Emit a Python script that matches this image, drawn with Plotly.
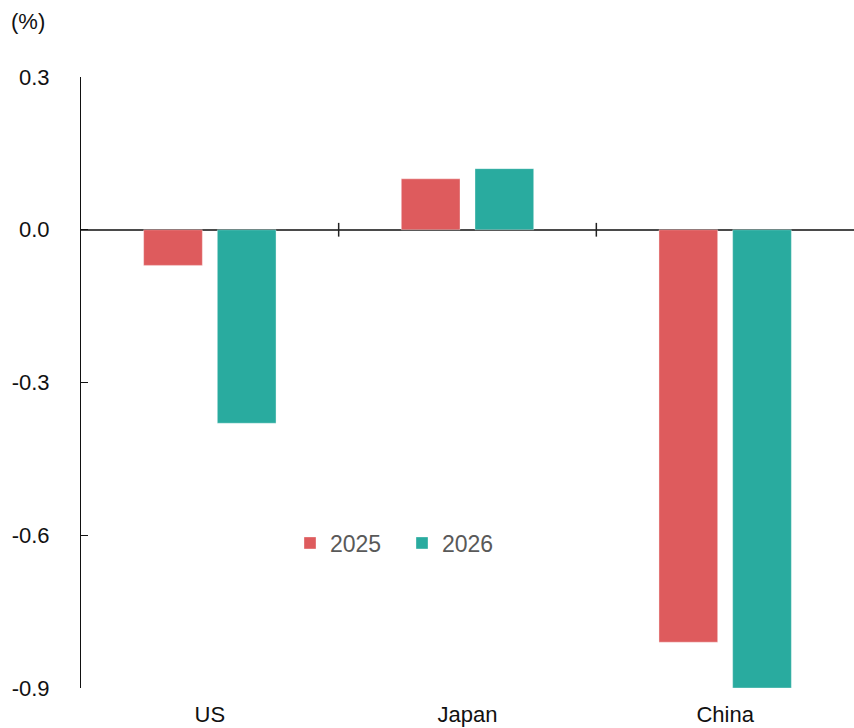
import plotly.graph_objects as go

# Contribution by region, percentage points
categories = ["US", "Japan", "China"]
series_names = ["2025", "2026"]
values_2025 = [-0.07, 0.10, -0.81]
values_2026 = [-0.38, 0.12, -0.90]
y_tick_values = [-0.9, -0.6, -0.3, 0.0, 0.3]
y_tick_labels = ["-0.9", "-0.6", "-0.3", "0.0", "0.3"]

colors = ["#DE5B5D", "#29AB9F"]
font_family = "Liberation Sans, Arial, sans-serif"

fig = go.Figure()
for name, vals, col in zip(series_names, [values_2025, values_2026], colors):
    fig.add_trace(go.Bar(
        x=categories, y=vals, name=name,
        marker=dict(color=col, line=dict(color="rgba(255,255,255,0.35)", width=1)),
    ))

# small separator ticks on the zero line between categories
sep_half = 0.0135
for i in range(len(categories) - 1):
    fig.add_shape(type="line", xref="x", yref="y",
                  x0=i + 0.5, x1=i + 0.5, y0=-sep_half, y1=sep_half,
                  line=dict(color="#222222", width=1.5))

fig.add_annotation(text="(%)", xref="paper", yref="paper",
                   x=(9 - 81) / 773, y=1 + 56 / 611,
                   xanchor="left", yanchor="middle", showarrow=False,
                   font=dict(size=22, color="#111111", family=font_family))

fig.update_layout(
    width=854, height=728,
    margin=dict(l=81, r=0, t=77, b=40),
    paper_bgcolor="white", plot_bgcolor="white",
    font=dict(family=font_family, size=22, color="#111111"),
    barmode="group", bargap=0.428, bargroupgap=0.2035,
    showlegend=True,
    legend=dict(orientation="h", x=(290 - 81) / 773, xanchor="left",
                y=(688 - 543) / 611, yanchor="middle",
                font=dict(size=23, color="#595959"),
                entrywidth=67, entrywidthmode="pixels",
                bgcolor="rgba(0,0,0,0)", traceorder="normal"),
    xaxis=dict(showline=False, showgrid=False, ticks="", zeroline=False,
               tickfont=dict(size=22, color="#111111"), ticklabelstandoff=11),
    yaxis=dict(range=[-0.9, 0.3], tickvals=y_tick_values, ticktext=y_tick_labels,
               showline=True, linecolor="#111111", linewidth=1,
               ticks="inside", ticklen=7, tickcolor="#111111", tickwidth=1,
               showgrid=False, zeroline=True, zerolinecolor="#4a4a4a", zerolinewidth=2,
               tickfont=dict(size=22, color="#111111"), ticklabelstandoff=26),
)

fig.write_html("out.html")
